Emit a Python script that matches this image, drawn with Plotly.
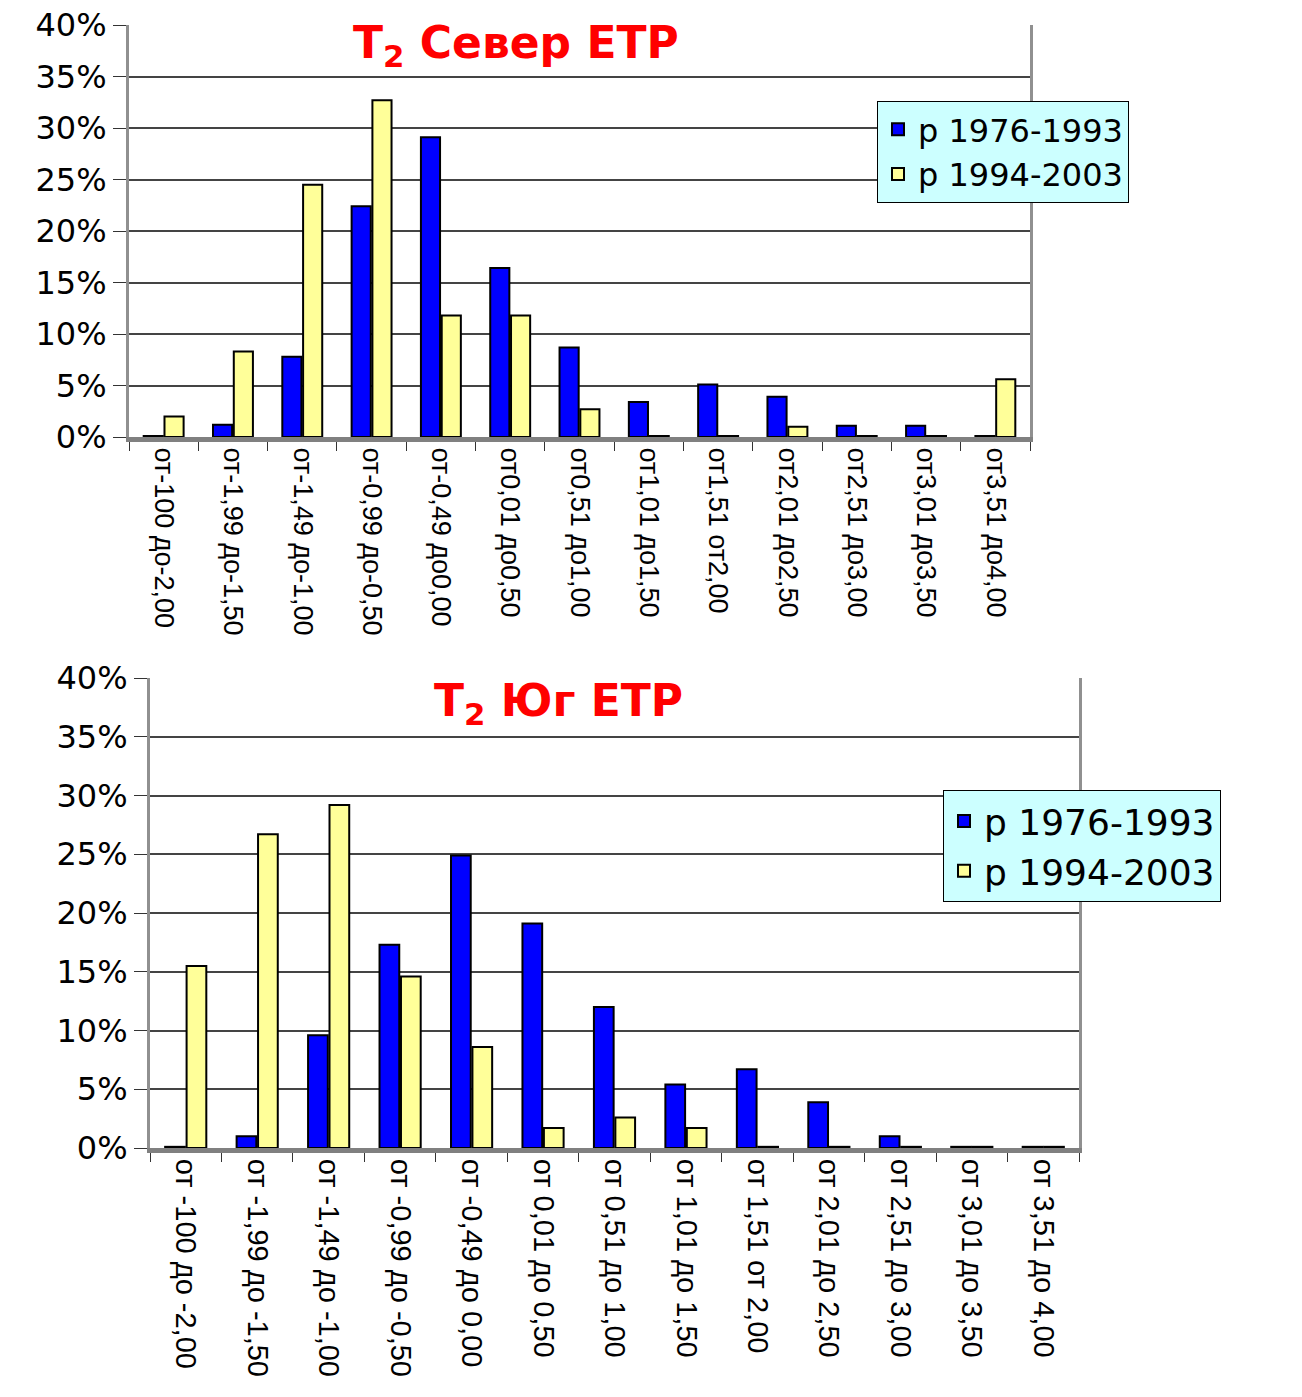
import plotly.graph_objects as go

W, H = 1302, 1397
OFF = 8  # page body margin in the browser

cats_north = ["от-100 до-2,00", "от-1,99 до-1,50", "от-1,49 до-1,00", "от-0,99 до-0,50",
              "от-0,49 до0,00", "от0,01 до0,50", "от0,51 до1,00", "от1,01 до1,50",
              "от1,51 от2,00", "от2,01 до2,50", "от2,51 до3,00", "от3,01 до3,50", "от3,51 до4,00"]
cats_south = ["от -100 до -2,00", "от -1,99 до -1,50", "от -1,49 до -1,00", "от -0,99 до -0,50",
              "от -0,49 до 0,00", "от 0,01 до 0,50", "от 0,51 до 1,00", "от 1,01 до 1,50",
              "от 1,51 от 2,00", "от 2,01 до 2,50", "от 2,51 до 3,00", "от 3,01 до 3,50", "от 3,51 до 4,00"]

north_1976_1993 = [0.1, 1.2, 7.8, 22.4, 29.1, 16.4, 8.7, 3.4, 5.1, 3.9, 1.1, 1.1, 0.1]
north_1994_2003 = [2.0, 8.3, 24.5, 32.7, 11.8, 11.8, 2.7, 0.1, 0.1, 1.0, 0.1, 0.1, 5.6]
south_1976_1993 = [0.1, 1.0, 9.6, 17.3, 24.9, 19.1, 12.0, 5.4, 6.7, 3.9, 1.0, 0.1, 0.1]
south_1994_2003 = [15.5, 26.7, 29.2, 14.6, 8.6, 1.7, 2.6, 1.7, 0.1, 0.1, 0.1, 0.1, 0.1]

series_names = ["р 1976-1993", "р 1994-2003"]
series_colors = ["#0000ff", "#ffff99"]
y_ticks = [0, 5, 10, 15, 20, 25, 30, 35, 40]
y_tick_text = [f"{v}%" for v in y_ticks]

FONT = "Liberation Sans, Arial, sans-serif"
WIDE = "DejaVu Sans, Liberation Sans, sans-serif"

fig = go.Figure()

for name, color, vals in zip(series_names, series_colors, [north_1976_1993, north_1994_2003]):
    fig.add_trace(go.Bar(x=cats_north, y=vals, name=name, xaxis="x", yaxis="y",
                         marker=dict(color=color, line=dict(color="black", width=2)),
                         legend="legend"))
for name, color, vals in zip(series_names, series_colors, [south_1976_1993, south_1994_2003]):
    fig.add_trace(go.Bar(x=cats_south, y=vals, name=name, xaxis="x2", yaxis="y2",
                         marker=dict(color=color, line=dict(color="black", width=2)),
                         legend="legend2"))

def px_x(p):
    return (p - OFF) / W

def px_y(p):
    return 1 - (p - OFF) / H

xcommon = dict(type="category", tickangle=90, ticks="outside", ticklen=9, tickcolor="#333",
               tickson="boundaries", showline=True, linecolor="#808080", linewidth=5,
               showgrid=False, zeroline=False, automargin=False, ticklabeloverflow="allow")
ycommon = dict(range=[0, 40], tickvals=y_ticks, ticktext=y_tick_text, ticks="outside",
               ticklen=13, tickcolor="#333", showline=True, mirror=True, linecolor="#909090",
               linewidth=3, showgrid=True, gridcolor="#444", gridwidth=1.5, zeroline=False,
               automargin=False, ticklabeloverflow="allow",
               tickfont=dict(family=WIDE, size=32, color="black"))

fig.update_layout(
    template="none",
    width=W, height=H,
    margin=dict(l=0, r=0, t=0, b=0, autoexpand=False),
    paper_bgcolor="white", plot_bgcolor="white",
    barmode="group", bargap=0.40, bargroupgap=0.08,
    xaxis=dict(domain=[px_x(129), px_x(1030)], anchor="y",
               tickfont=dict(family=FONT, size=27, color="black"), **xcommon),
    yaxis=dict(domain=[px_y(437), px_y(25)], anchor="x", **ycommon),
    xaxis2=dict(domain=[px_x(150), px_x(1079)], anchor="y2",
                tickfont=dict(family=FONT, size=29, color="black"), **xcommon),
    yaxis2=dict(domain=[px_y(1148), px_y(678)], anchor="x2", **ycommon),
    legend=dict(x=px_x(877), y=px_y(101), xanchor="left", yanchor="top",
                bgcolor="#ccffff", bordercolor="black", borderwidth=1,
                font=dict(family=WIDE, size=32, color="black"), tracegroupgap=0),
    legend2=dict(x=px_x(943), y=px_y(790), xanchor="left", yanchor="top",
                 bgcolor="#ccffff", bordercolor="black", borderwidth=1,
                 font=dict(family=WIDE, size=36, color="black"), tracegroupgap=0),
    annotations=[
        dict(text="<b>T<sub>2</sub> Север ЕТР</b>", xref="paper", yref="paper",
             x=px_x(516), y=px_y(46), xanchor="center", yanchor="middle", showarrow=False,
             font=dict(family=WIDE, size=44, color="#ff0000")),
        dict(text="<b>T<sub>2</sub> Юг ЕТР</b>", xref="paper", yref="paper",
             x=px_x(558), y=px_y(703), xanchor="center", yanchor="middle", showarrow=False,
             font=dict(family=WIDE, size=44, color="#ff0000")),
    ],
)

fig.write_html("out.html")
